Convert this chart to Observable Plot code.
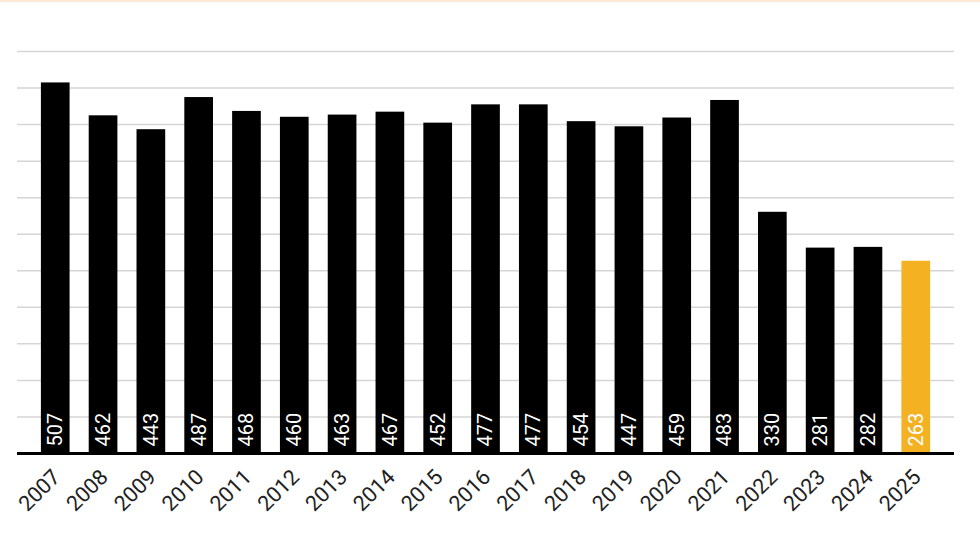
<!DOCTYPE html>
<html>
<head>
<meta charset="utf-8">
<script src="https://cdn.jsdelivr.net/npm/d3@7"></script>
<script src="https://cdn.jsdelivr.net/npm/@observablehq/plot@0.6"></script>
<style>
  html, body { margin: 0; padding: 0; background: #fff; }
  #wrap { position: relative; width: 980px; height: 560px; overflow: hidden; }
  #topline { position: absolute; left: 0; top: 0; width: 980px; height: 2px; background: #fde9d6; }
  svg { font-family: Roboto, "Noto Sans", sans-serif; }
</style>
</head>
<body>
<div id="wrap"><div id="topline"></div></div>
<script>
const years = ["2007","2008","2009","2010","2011","2012","2013","2014","2015","2016","2017","2018","2019","2020","2021","2022","2023","2024","2025"];
const values = [507,462,443,487,468,460,463,467,452,477,477,454,447,459,483,330,281,282,263];
const highlightYear = "2025";
const gridTicks = [50,100,150,200,250,300,350,400,450,500,550];

const data = years.map((year, i) => ({year, value: values[i]}));

const chart = Plot.plot({
  width: 980,
  height: 560,
  marginLeft: 17,
  marginRight: 26,
  marginTop: 51,
  marginBottom: 107,
  style: {fontFamily: "Roboto, 'Noto Sans', sans-serif", background: "transparent"},
  x: {type: "band", domain: years, paddingInner: 0.4, paddingOuter: 0.5, round: false, label: null},
  y: {domain: [0, 550], label: null, axis: null},
  marks: [
    Plot.ruleY(gridTicks, {stroke: "#d6d6d6", strokeWidth: 1.5}),
    Plot.barY(data.filter(d => d.year !== highlightYear), {x: "year", y: "value", fill: "#000"}),
    Plot.barY(data.filter(d => d.year === highlightYear), {x: "year", y: "value", fill: "#F4B223"}),
    Plot.text(data, {x: "year", y: 0, text: d => String(d.value), rotate: -90, textAnchor: "start", dy: -7, fill: "#fff", fontSize: 20}),
    Plot.ruleY([0], {stroke: "#000", strokeWidth: 3}),
    Plot.axisX({tickRotate: -45, tickSize: 0, tickPadding: 20, dx: 1, fontSize: 21.5, fill: "#222", label: null})
  ]
});
document.getElementById("wrap").appendChild(chart);
</script>
</body>
</html>
